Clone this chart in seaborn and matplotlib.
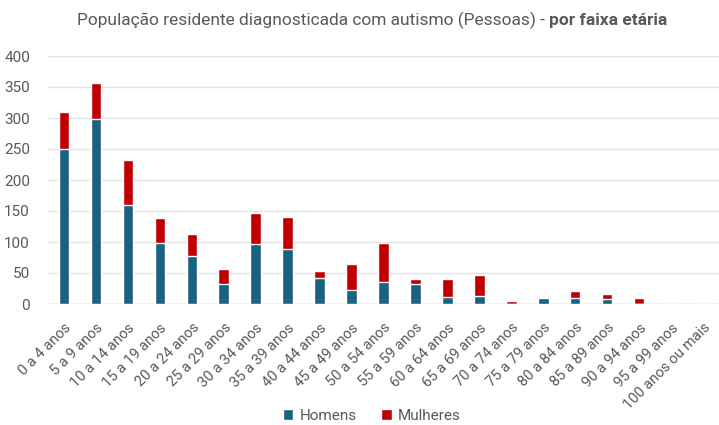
import matplotlib
matplotlib.use("Agg")
import matplotlib.pyplot as plt
import seaborn as sns
import pandas as pd
from matplotlib.patches import Patch

faixas = ["0 a 4 anos", "5 a 9 anos", "10 a 14 anos", "15 a 19 anos", "20 a 24 anos",
          "25 a 29 anos", "30 a 34 anos", "35 a 39 anos", "40 a 44 anos", "45 a 49 anos",
          "50 a 54 anos", "55 a 59 anos", "60 a 64 anos", "65 a 69 anos", "70 a 74 anos",
          "75 a 79 anos", "80 a 84 anos", "85 a 89 anos", "90 a 94 anos", "95 a 99 anos",
          "100 anos ou mais"]
homens = [250, 298, 159, 98, 78, 32, 97, 89, 42, 23, 36, 32, 12, 13, 0, 9, 10, 8, 0, 0, 0]
mulheres = [60, 59, 74, 40, 35, 24, 49, 52, 11, 42, 63, 9, 28, 34, 5, 0, 11, 8, 10, 0, 0]

df = pd.DataFrame({"faixa": faixas, "Homens": homens, "Mulheres": mulheres})
df["total"] = df["Homens"] + df["Mulheres"]

AZUL = "#1a6283"
VERMELHO = "#c00000"
CINZA = "#595959"

sns.set_style("white")
plt.rcParams["font.family"] = ["Roboto", "DejaVu Sans"]

fig = plt.figure(figsize=(7.19, 4.25), dpi=100)
ax = fig.add_axes([48 / 719, 1 - 304 / 425, 671 / 719, 248 / 425])

# stacked bars: total in red, men drawn over it from the base
sns.barplot(data=df, x="faixa", y="total", color=VERMELHO, width=0.33,
            saturation=1, ax=ax, order=faixas)
sns.barplot(data=df, x="faixa", y="Homens", color=AZUL, width=0.33,
            saturation=1, ax=ax, order=faixas)

ax.set_ylim(0, 400)
ax.set_xlim(-0.5, len(faixas) - 0.5)
ax.set_yticks(range(0, 401, 50))
ax.yaxis.grid(True, color="#e3e3e3", linewidth=1.0)
ax.set_axisbelow(True)
for s in ax.spines.values():
    s.set_visible(False)
ax.axhline(0, color="#d9d9d9", linewidth=1.0, zorder=0.5)
ax.set_xlabel("")
ax.set_ylabel("")
ax.tick_params(axis="both", length=0, labelcolor=CINZA)
ax.tick_params(axis="y", pad=13, labelsize=11)
ax.set_xticks(range(len(faixas)))
ax.set_xticklabels(faixas, rotation=45, ha="right", rotation_mode="anchor", fontsize=10.5)
ax.tick_params(axis="x", pad=12)

# two-part title: regular text followed by a bold tail, centred as a whole
fig.canvas.draw()
renderer = fig.canvas.get_renderer()
t1 = fig.text(0, 0.952, "População residente diagnosticada com autismo (Pessoas) - ",
              ha="left", va="center", fontsize=12.5, color=CINZA)
t2 = fig.text(0, 0.952, "por faixa etária", ha="left", va="center",
              fontsize=12.5, color=CINZA, fontweight="bold")
w1 = t1.get_window_extent(renderer).width
w2 = t2.get_window_extent(renderer).width
W = fig.bbox.width
x0 = (372 - (w1 + w2) / 2) / W
t1.set_x(x0)
t2.set_x(x0 + w1 / W)

handles = [Patch(facecolor=AZUL, label="Homens"), Patch(facecolor=VERMELHO, label="Mulheres")]
fig.legend(handles=handles, loc="center", bbox_to_anchor=(0.517, 0.022), ncol=2,
           frameon=False, fontsize=11, handlelength=0.7, handleheight=0.7,
           handletextpad=0.4, columnspacing=1.6, labelcolor=CINZA)

fig.savefig("out.png", dpi=100)
